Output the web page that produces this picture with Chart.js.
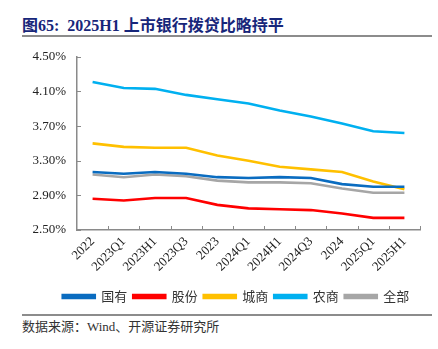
<!DOCTYPE html>
<html lang="zh">
<head>
<meta charset="UTF-8">
<title>上市银行拨贷比</title>
<script src="https://cdn.jsdelivr.net/npm/chart.js"></script>
<style>
body{margin:0;width:438px;height:349px;background:#fff;position:relative;overflow:hidden;
     font-family:"Liberation Serif","Noto Sans CJK SC",serif}
.title{position:absolute;left:22px;top:12px;font-size:16px;font-weight:700;color:#17267a;white-space:nowrap}
.rule{position:absolute;left:22px;width:410px;height:0;border-top:2px solid #8c8c8c}
.source{position:absolute;left:22px;top:316px;font-size:13px;color:#333;white-space:nowrap}
.chart-box{position:absolute;left:0;top:38px;width:438px;height:275px}
</style>
</head>
<body>
<div class="title">图65:&nbsp; 2025H1 上市银行拨贷比略持平</div>
<div class="rule" style="top:35px"></div>
<div class="chart-box"><canvas id="chart"></canvas></div>
<div class="rule" style="top:314px"></div>
<div class="source">数据来源：Wind、开源证券研究所</div>

<script>
/* 拨贷比（%） */
const periods=['2022','2023Q1','2023H1','2023Q3','2023','2024Q1','2024H1','2024Q3','2024','2025Q1','2025H1'];
const guoyou =[3.17,3.15,3.17,3.15,3.11,3.10,3.11,3.10,3.03,3.00,3.00];
const gufen  =[2.86,2.84,2.87,2.87,2.79,2.75,2.74,2.73,2.69,2.64,2.64];
const chengshang=[3.50,3.46,3.45,3.45,3.36,3.30,3.23,3.20,3.17,3.06,2.97];
const nongshang =[4.21,4.14,4.13,4.06,4.01,3.96,3.88,3.81,3.73,3.64,3.62];
const quanbu =[3.14,3.11,3.14,3.12,3.07,3.05,3.05,3.04,2.98,2.93,2.93];
const yTicks=[2.5,2.9,3.3,3.7,4.1,4.5];

const axisColor='#8a8a8a';
const tickFont={family:'"Liberation Serif","Noto Sans CJK SC",serif',size:13};

function line(label,data,color){
  return {label,data,borderColor:color,backgroundColor:color,borderWidth:2.6,
          pointRadius:0,tension:0,fill:false};
}

/* 坐标轴上向内的小刻度 */
const innerTicks={
  id:'innerTicks',
  afterDraw(chart){
    const {ctx,chartArea:a,scales:{y}}=chart;
    ctx.save();
    ctx.strokeStyle=axisColor;ctx.lineWidth=1;
    ctx.beginPath();
    yTicks.forEach(v=>{const py=Math.round(y.getPixelForValue(v))+0.5;ctx.moveTo(a.left,py);ctx.lineTo(a.left+4,py);});
    const step=(a.right-a.left)/periods.length;
    for(let i=1;i<=periods.length;i++){const px=Math.round(a.left+i*step)+0.5;ctx.moveTo(px,a.bottom);ctx.lineTo(px,a.bottom-4);}
    ctx.stroke();
    ctx.restore();
  }
};

/* 图例整体右移，使其对齐绘图区 */
const legendShift={
  id:'legendShift',
  afterLayout(chart){
    const lg=chart.legend;
    if(lg){lg.left+=26;lg.right+=26;}
  }
};

new Chart(document.getElementById('chart'),{
  type:'line',
  data:{labels:periods,datasets:[
    line('国有',guoyou,'#0a6cc0'),
    line('股份',gufen,'#ff0000'),
    line('城商',chengshang,'#ffc000'),
    line('农商',nongshang,'#00b0f0'),
    line('全部',quanbu,'#a6a6a6')
  ]},
  options:{
    responsive:true,maintainAspectRatio:false,animation:false,
    layout:{padding:{left:0,right:18,top:18,bottom:0}},
    plugins:{
      legend:{position:'bottom',
        labels:{boxWidth:32,boxHeight:3,padding:6,color:'#333',
                font:{family:'"Noto Sans CJK SC",sans-serif',size:13}}},
      tooltip:{enabled:false}
    },
    scales:{
      x:{offset:true,
         grid:{display:true,drawOnChartArea:false,drawTicks:false},
         border:{display:true,color:axisColor,width:1.5},
         ticks:{color:'#222',font:tickFont,maxRotation:45,minRotation:45,autoSkip:false,padding:4},
         afterFit(s){s.height=54;}},
      y:{min:2.5,max:4.5,
         grid:{display:true,drawOnChartArea:false,drawTicks:false},
         border:{display:true,color:axisColor,width:1.5},
         afterBuildTicks(s){s.ticks=yTicks.map(v=>({value:v}));},
         ticks:{color:'#222',font:tickFont,padding:11,callback:v=>v.toFixed(2)+'%'},
         afterFit(s){s.width=77;}}
    }
  },
  plugins:[innerTicks,legendShift]
});
</script>
</body>
</html>
